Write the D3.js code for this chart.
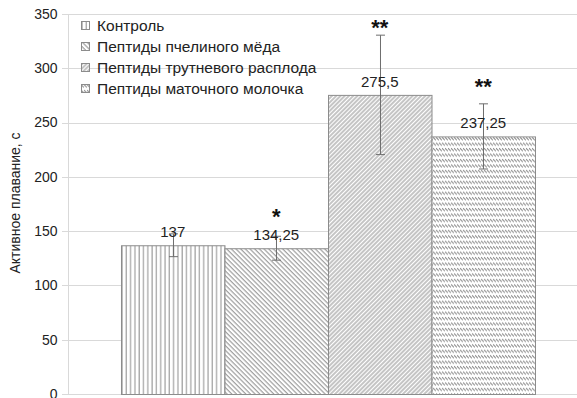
<!DOCTYPE html>
<html>
<head>
<meta charset="utf-8">
<script src="https://cdn.jsdelivr.net/npm/d3@7/dist/d3.min.js"></script>
<style>
  html, body { margin: 0; padding: 0; background: #fff; }
  svg { display: block; font-family: "Liberation Sans", Arial, sans-serif; }
</style>
</head>
<body>
<svg id="chart" width="577" height="398"></svg>
<script>
// Active swimming time (s) per treatment group
const categories = [""];
const seriesNames = [
  "Контроль",
  "Пептиды пчелиного мёда",
  "Пептиды трутневого расплода",
  "Пептиды маточного молочка"
];
const values = [137, 134.25, 275.5, 237.25];
const errors = [10.5, 11, 55, 30];
const valueLabels = ["137", "134,25", "275,5", "237,25"];
const significance = ["", "*", "**", "**"];
const significanceAt = [0, 168, 342, 287];
const yTicks = [0, 50, 100, 150, 200, 250, 300, 350];
const yTitle = "Активное плавание, с";

const svg = d3.select("#chart");
const W = 577, H = 398;
const plot = { left: 68, right: 588, top: 14, bottom: 394 };

const y = d3.scaleLinear().domain([0, 350]).range([plot.bottom, plot.top]);
const x0 = d3.scaleBand().domain(categories).range([plot.left, plot.right])
  .paddingInner(0).paddingOuter(0.128);
const x1 = d3.scaleBand().domain(seriesNames).range([0, x0.bandwidth()]).padding(0);

// Hatch fills
const defs = svg.append("defs");
const hatchColor = "#8c8c8c";

let p = defs.append("pattern").attr("id", "pat0").attr("patternUnits", "userSpaceOnUse")
  .attr("width", 4.3).attr("height", 4);
p.append("rect").attr("width", 4.3).attr("height", 4).attr("fill", "#fff");
p.append("line").attr("x1", 1).attr("x2", 1).attr("y1", 0).attr("y2", 4)
  .attr("stroke", hatchColor).attr("stroke-width", 1);

p = defs.append("pattern").attr("id", "pat1").attr("patternUnits", "userSpaceOnUse")
  .attr("width", 3.3).attr("height", 10).attr("patternTransform", "rotate(-45)");
p.append("rect").attr("width", 3.3).attr("height", 10).attr("fill", "#fff");
p.append("line").attr("x1", 1).attr("x2", 1).attr("y1", 0).attr("y2", 10)
  .attr("stroke", hatchColor).attr("stroke-width", 1);

p = defs.append("pattern").attr("id", "pat2").attr("patternUnits", "userSpaceOnUse")
  .attr("width", 3.0).attr("height", 10).attr("patternTransform", "rotate(45)");
p.append("rect").attr("width", 3.0).attr("height", 10).attr("fill", "#fff");
p.append("line").attr("x1", 1).attr("x2", 1).attr("y1", 0).attr("y2", 10)
  .attr("stroke", hatchColor).attr("stroke-width", 1);

p = defs.append("pattern").attr("id", "pat3").attr("patternUnits", "userSpaceOnUse")
  .attr("width", 3).attr("height", 5.45);
p.append("rect").attr("width", 3).attr("height", 5.45).attr("fill", "#fff");
p.append("line").attr("x1", 0).attr("y1", 1).attr("x2", 3).attr("y2", 4)
  .attr("stroke", hatchColor).attr("stroke-width", 1.1);

const fills = seriesNames.map((d, i) => `url(#pat${i})`);

// Gridlines and tick labels
const gy = svg.append("g");
gy.selectAll("line").data(yTicks).join("line")
  .attr("x1", 62).attr("x2", W)
  .attr("y1", d => Math.round(y(d)) + 0.5).attr("y2", d => Math.round(y(d)) + 0.5)
  .attr("stroke", "#d9d9d9").attr("stroke-width", 1);
gy.selectAll("text").data(yTicks).join("text")
  .attr("x", 57.5).attr("y", d => y(d)).attr("dy", "0.35em")
  .attr("text-anchor", "end").attr("font-size", 14).attr("fill", "#222")
  .text(d => d);
svg.append("line").attr("x1", plot.left + 0.5).attr("x2", plot.left + 0.5)
  .attr("y1", plot.top).attr("y2", plot.bottom)
  .attr("stroke", "#d9d9d9");

// Axis title
svg.append("text")
  .attr("transform", `translate(15,${(plot.top + plot.bottom) / 2 - 1}) rotate(-90)`)
  .attr("dy", "0.35em").attr("text-anchor", "middle")
  .attr("font-size", 14).attr("fill", "#222").text(yTitle);

// Bars
const g = svg.append("g").attr("transform", `translate(${x0(categories[0])},0)`);
const rows = seriesNames.map((s, i) => ({ s, i, v: values[i], e: errors[i] }));
g.selectAll("rect.bar").data(rows).join("rect")
  .attr("class", "bar")
  .attr("x", d => x1(d.s) + 0.5)
  .attr("y", d => y(d.v) + 0.5)
  .attr("width", x1.bandwidth())
  .attr("height", d => y(0) - y(d.v))
  .attr("fill", d => fills[d.i])
  .attr("stroke", "#8c8c8c").attr("stroke-width", 1);

// Error bars
const eb = g.selectAll("g.err").data(rows).join("g").attr("class", "err");
const cx = d => Math.round(x1(d.s) + x1.bandwidth() / 2) + 0.5;
eb.append("line").attr("x1", cx).attr("x2", cx)
  .attr("y1", d => y(d.v + d.e)).attr("y2", d => y(d.v - d.e));
eb.append("line").attr("x1", d => cx(d) - 4.5).attr("x2", d => cx(d) + 4.5)
  .attr("y1", d => y(d.v + d.e)).attr("y2", d => y(d.v + d.e));
eb.append("line").attr("x1", d => cx(d) - 4.5).attr("x2", d => cx(d) + 4.5)
  .attr("y1", d => y(d.v - d.e)).attr("y2", d => y(d.v - d.e));
eb.selectAll("line").attr("stroke", "#6e6e6e").attr("stroke-width", 1);

// Value labels
g.selectAll("text.val").data(rows).join("text")
  .attr("class", "val")
  .attr("x", d => x1(d.s) + x1.bandwidth() / 2)
  .attr("y", d => y(d.v) - 8)
  .attr("text-anchor", "middle").attr("font-size", 15).attr("fill", "#222")
  .text(d => valueLabels[d.i]);

// Significance marks
g.selectAll("text.sig").data(rows.filter(d => significance[d.i])).join("text")
  .attr("class", "sig")
  .attr("x", d => x1(d.s) + x1.bandwidth() / 2)
  .attr("y", d => y(significanceAt[d.i]) + 12)
  .attr("text-anchor", "middle").attr("font-size", 22).attr("font-weight", "bold")
  .attr("fill", "#111")
  .text(d => significance[d.i]);

// Legend
const lg = svg.append("g").attr("transform", "translate(81,26)");
const li = lg.selectAll("g").data(seriesNames).join("g")
  .attr("transform", (d, i) => `translate(0,${i * 21})`);
li.append("rect").attr("x", 0.5).attr("y", -4.5).attr("width", 8).attr("height", 8)
  .attr("fill", (d, i) => fills[i]).attr("stroke", "#8c8c8c");
li.append("text").attr("x", 16).attr("y", 0).attr("dy", "0.35em")
  .attr("font-size", 15.5).attr("fill", "#222").text(d => d);
</script>
</body>
</html>
